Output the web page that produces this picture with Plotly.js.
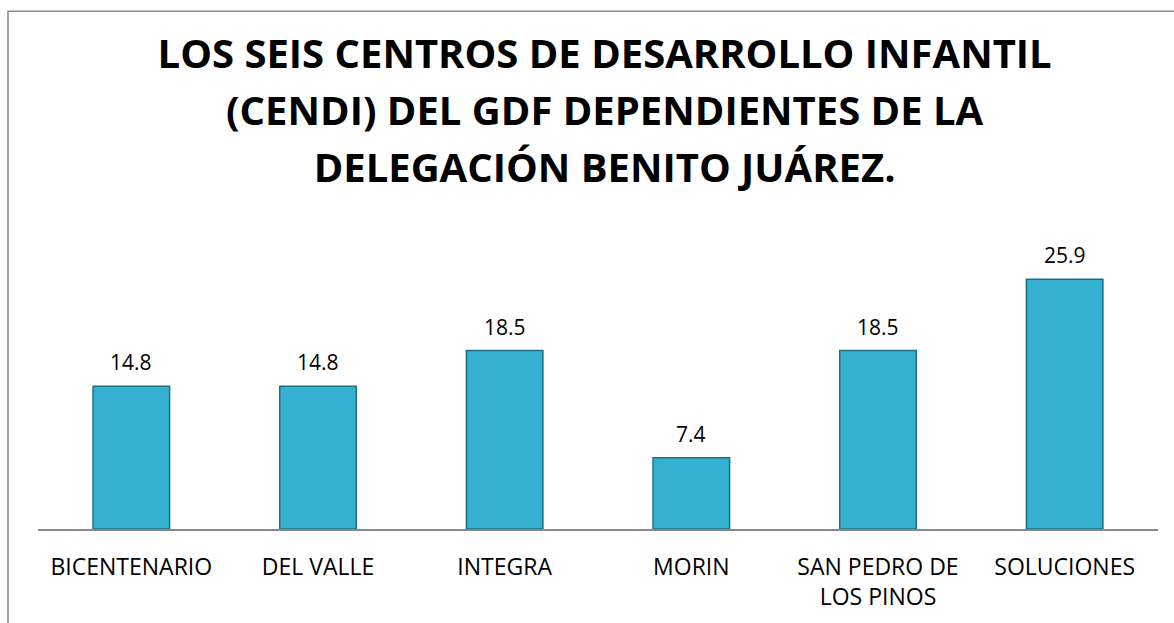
<!DOCTYPE html>
<html>
<head>
<meta charset="utf-8">
<script src="https://cdn.plot.ly/plotly-3.0.1.min.js"></script>
<style>html,body{margin:0;padding:0;background:#fff}#chart{width:1174px;height:623px}</style>
</head>
<body>
<div id="chart"></div>
<script>
const categories = ["BICENTENARIO", "DEL VALLE", "INTEGRA", "MORIN", "SAN PEDRO DE<br>LOS PINOS", "SOLUCIONES"];
const values = [14.8, 14.8, 18.5, 7.4, 18.5, 25.9];
const valueLabels = ["14.8", "14.8", "18.5", "7.4", "18.5", "25.9"];
const titleLines = ["LOS SEIS CENTROS DE DESARROLLO INFANTIL", "(CENDI) DEL GDF DEPENDIENTES DE LA", "DELEGACIÓN BENITO JUÁREZ."];

const trace = {
  type: 'bar',
  x: categories,
  y: values,
  marker: {color: '#35b0d1', line: {color: '#1e6f86', width: 1.5}},
  width: 0.41,
  hoverinfo: 'x+y'
};

const labelAnnotations = categories.map((c, i) => ({
  x: c, y: values[i], xref: 'x', yref: 'y',
  text: valueLabels[i], showarrow: false,
  yanchor: 'bottom', yshift: 8,
  font: {family: 'Open Sans, sans-serif', size: 21, color: '#000'}
}));

const layout = {
  width: 1174, height: 623,
  margin: {l: 38, r: 16, t: 230, b: 94},
  paper_bgcolor: '#fff', plot_bgcolor: '#fff',
  showlegend: false,
  title: {
    text: titleLines.map(t => '<span style="font-size:40px">' + t + '</span>').join('<br>'),
    font: {family: 'Open Sans, sans-serif', size: 44, color: '#000', weight: 'bold'},
    x: 0.515, xanchor: 'center', xref: 'container',
    y: 0.891, yanchor: 'middle', yref: 'container'
  },
  xaxis: {
    showline: true, linecolor: '#888', linewidth: 1.5,
    ticks: '', showgrid: false, zeroline: false,
    tickfont: {family: 'Open Sans, sans-serif', size: 23, color: '#000'},
    ticklabelstandoff: 17
  },
  yaxis: {
    range: [0, 31], visible: false, showgrid: false, zeroline: false
  },
  annotations: labelAnnotations,
  shapes: [{
    type: 'rect', xref: 'paper', yref: 'paper',
    x0: -0.0268, x1: 1.05, y0: -0.5, y1: 1.732,
    line: {color: '#888', width: 1.5}, fillcolor: 'rgba(0,0,0,0)', layer: 'below'
  }]
};

Plotly.newPlot('chart', [trace], layout, {displayModeBar: false, staticPlot: true});
</script>
</body>
</html>
